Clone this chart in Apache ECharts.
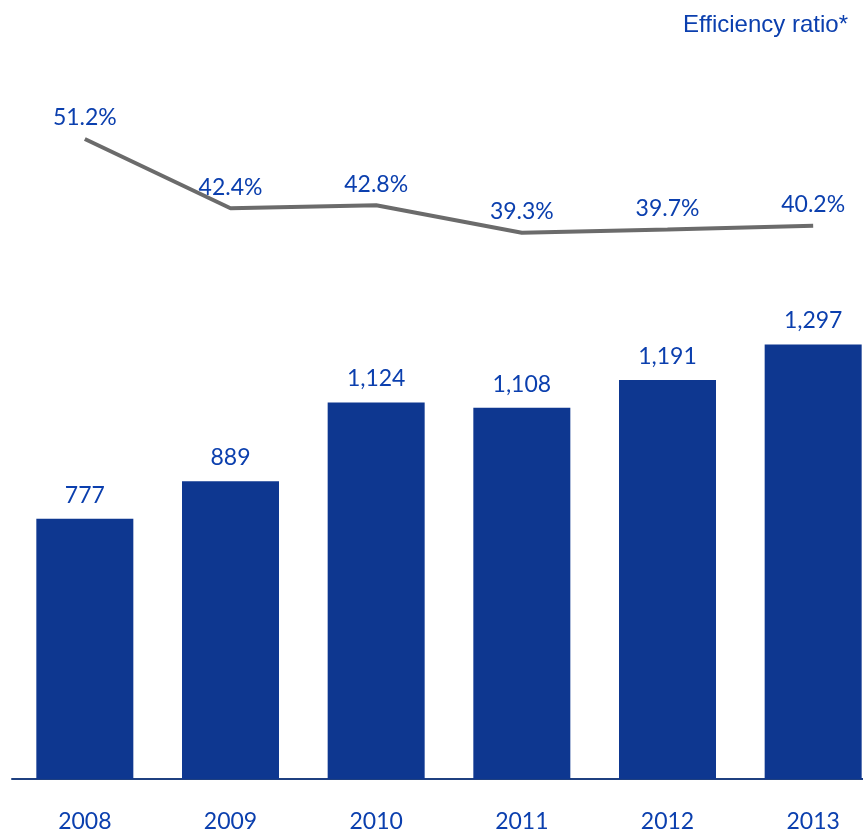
<!DOCTYPE html>
<html><head><meta charset="utf-8">
<script src="https://cdn.jsdelivr.net/npm/echarts@6/dist/echarts.min.js"></script>
<style>html,body{margin:0;padding:0;background:#fff;overflow:hidden}#c{width:886px;height:830px}</style>
</head><body><div id="c"></div>
<script>
const categories = ['2008','2009','2010','2011','2012','2013'];
const barValues = [777, 889, 1124, 1108, 1191, 1297];
const ratioValues = [51.2, 42.4, 42.8, 39.3, 39.7, 40.2];
const titleText = 'Efficiency ratio*';

const blueText = '#0b3fae';
const chart = echarts.init(document.getElementById('c'), null, {renderer:'canvas'});
chart.setOption({
  animation: false,
  title: { text: titleText, left: 678, top: 8,
    textStyle: { fontFamily: 'Liberation Sans, Arial', fontWeight: 'normal', fontSize: 24, color: '#0b3fae' } },
  grid: { left: 12, right: 0, top: 109, bottom: 51, containLabel: false, outerBoundsMode: 'none' },
  xAxis: { type: 'category', data: categories,
    axisLine: { lineStyle: { color: '#1f4080', width: 2 } },
    axisTick: { show: false },
    axisLabel: { color: blueText, fontFamily: 'Lato, Open Sans', fontSize: 23, margin: 31 } },
  yAxis: [
    { type: 'value', min: 0, max: 2000, show: false, splitLine: { show: false } },
    { type: 'value', min: -30, max: 55, show: false, splitLine: { show: false } }
  ],
  series: [
    { type: 'bar', data: barValues, barWidth: 97, yAxisIndex: 0,
      itemStyle: { color: '#0e3790' },
      label: { show: true, position: 'top', distance: 12, color: blueText,
        fontFamily: 'Lato, Open Sans', fontSize: 23,
        formatter: p => p.value.toLocaleString('en-US') } },
    { type: 'line', data: ratioValues, yAxisIndex: 1, symbol: 'circle', symbolSize: 1,
      itemStyle: { color: '#6b6b6b', opacity: 0 },
      lineStyle: { color: '#6b6b6b', width: 4, opacity: 1 },
      label: { show: true, position: 'top', distance: 9, color: blueText, opacity: 1,
        fontFamily: 'Lato, Open Sans', fontSize: 23,
        formatter: p => p.value.toFixed(1) + '%' } }
  ]
});
</script></body></html>
